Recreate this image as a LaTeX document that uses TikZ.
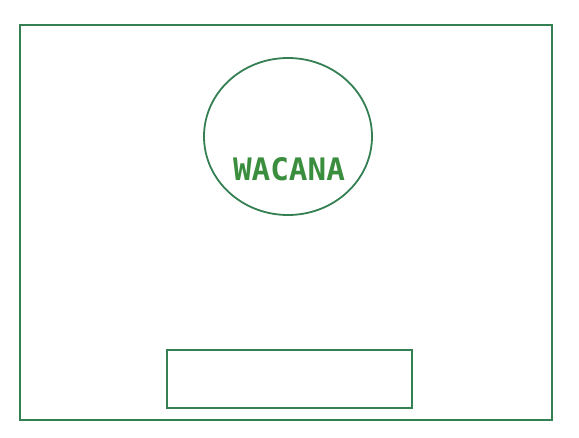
\documentclass[tikz,border=0pt]{standalone}
\usepackage{fontspec}
\newfontfamily\labelfont{DejaVu Sans Mono}
\usetikzlibrary{shapes.geometric}
\definecolor{linegreen}{RGB}{52,128,82}
\definecolor{textgreen}{RGB}{58,142,62}
\begin{document}
\begin{tikzpicture}[x=1pt,y=-1pt,
  frame/.style={draw=linegreen,line width=1.8pt},
  thinframe/.style={draw=linegreen,line width=1.3pt}]
\useasboundingbox (0,0) rectangle (579,437);
\node[frame,rectangle,minimum width=532pt,minimum height=395pt,inner sep=0pt] (outer) at (286,222.5) {};
\node[frame,ellipse,minimum width=168pt,minimum height=157pt,inner sep=0pt] (circ) at (288,136.5) {};
\node[anchor=base,text=textgreen,inner sep=0pt,font=\labelfont\bfseries\fontsize{31}{31}\selectfont] (lbl) at (289,180) {WACANA};
\node[thinframe,rectangle,minimum width=245pt,minimum height=58pt,inner sep=0pt] (box) at (289.5,379) {};
\end{tikzpicture}
\end{document}
